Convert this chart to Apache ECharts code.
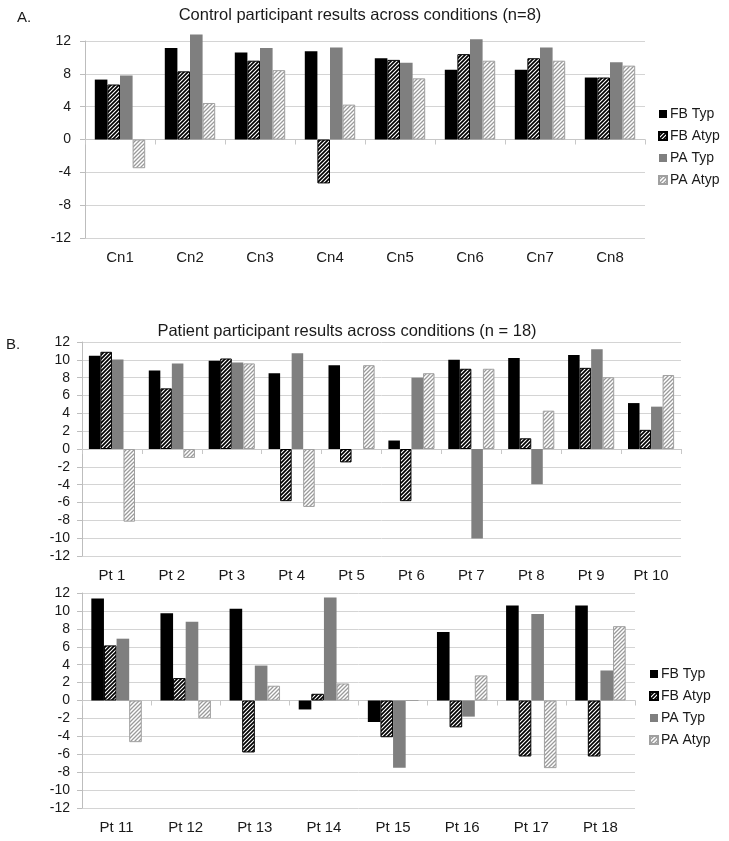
<!DOCTYPE html>
<html><head><meta charset="utf-8">
<script src="https://cdn.jsdelivr.net/npm/echarts@6/dist/echarts.min.js"></script>
<style>html,body{margin:0;padding:0;background:#fff}#c{width:729px;height:841px}</style>
</head><body><div id="c"></div>
<script>
const seriesNames = ['FB Typ', 'FB Atyp', 'PA Typ', 'PA Atyp'];

const controlCats = ['Cn1', 'Cn2', 'Cn3', 'Cn4', 'Cn5', 'Cn6', 'Cn7', 'Cn8'];
const controlFbTyp  = [7.3, 11.15, 10.6, 10.75, 9.9, 8.5, 8.5, 7.55];
const controlFbAtyp = [6.7, 8.3, 9.6, -5.35, 9.7, 10.4, 9.9, 7.55];
const controlPaTyp  = [7.8, 12.8, 11.15, 11.2, 9.35, 12.2, 11.2, 9.4];
const controlPaAtyp = [-3.5, 4.45, 8.45, 4.25, 7.45, 9.6, 9.6, 9.0];

const patientCats1 = ['Pt 1', 'Pt 2', 'Pt 3', 'Pt 4', 'Pt 5', 'Pt 6', 'Pt 7', 'Pt 8', 'Pt 9', 'Pt 10'];
const patient1FbTyp  = [10.45, 8.8, 9.9, 8.5, 9.4, 0.95, 10.0, 10.2, 10.55, 5.15];
const patient1FbAtyp = [10.9, 6.8, 10.15, -5.85, -1.5, -5.85, 9.0, 1.2, 9.1, 2.15];
const patient1PaTyp  = [10.05, 9.6, 9.7, 10.75, 0, 8.0, -10.05, -3.95, 11.2, 4.75];
const patient1PaAtyp = [-8.15, -1.0, 9.6, -6.5, 9.4, 8.5, 9.0, 4.3, 8.05, 8.3];

const patientCats2 = ['Pt 11', 'Pt 12', 'Pt 13', 'Pt 14', 'Pt 15', 'Pt 16', 'Pt 17', 'Pt 18'];
const patient2FbTyp  = [11.4, 9.75, 10.25, -1.0, -2.4, 7.65, 10.6, 10.6];
const patient2FbAtyp = [6.15, 2.5, -5.8, 0.75, -4.1, -3.0, -6.25, -6.25];
const patient2PaTyp  = [6.9, 8.8, 3.9, 11.5, -7.5, -1.8, 9.65, 3.35];
const patient2PaAtyp = [-4.65, -2.0, 1.65, 1.9, 0, 2.8, -7.55, 8.3];

const yRangeA = {min: -12, max: 12, interval: 4};
const yRangeB = {min: -12, max: 12, interval: 2};

function stripes(fg, bg, lw, size) {
  const c = document.createElement('canvas');
  c.width = c.height = size;
  const g = c.getContext('2d');
  g.fillStyle = bg; g.fillRect(0, 0, size, size);
  g.strokeStyle = fg; g.lineWidth = lw; g.lineCap = 'square';
  g.beginPath();
  g.moveTo(-2, size + 2); g.lineTo(size + 2, -2);
  g.moveTo(-2, 2); g.lineTo(2, -2);
  g.moveTo(size - 2, size + 2); g.lineTo(size + 2, size - 2);
  g.stroke();
  return {image: c, repeat: 'repeat'};
}
const darkHatch = stripes('#000', '#fff', 1.7, 4);
const lightHatch = stripes('#9a9a9a', '#fff', 1.3, 4);

const styles = [
  {color: '#000'},
  {color: darkHatch, borderColor: '#000', borderWidth: 1},
  {color: '#7f7f7f'},
  {color: lightHatch, borderColor: '#a0a0a0', borderWidth: 1}
];

const groups = [
  {cats: controlCats, data: [controlFbTyp, controlFbAtyp, controlPaTyp, controlPaAtyp], y: yRangeA, gap: '28%'},
  {cats: patientCats1, data: [patient1FbTyp, patient1FbAtyp, patient1PaTyp, patient1PaAtyp], y: yRangeB, gap: '23%'},
  {cats: patientCats2, data: [patient2FbTyp, patient2FbAtyp, patient2PaTyp, patient2PaAtyp], y: yRangeB, gap: '27%'}
];

const grids = [
  {left: 85, top: 41, width: 560, height: 197},
  {left: 82, top: 342, width: 599, height: 214},
  {left: 82, top: 593, width: 553, height: 215}
];
const labelMargins = [14, 12, 12];

const font = 'Liberation Sans, Arial, sans-serif';
const xAxis = [], yAxis = [], series = [];
groups.forEach((grp, i) => {
  xAxis.push({
    type: 'category', gridIndex: i, data: grp.cats, position: 'bottom',
    axisLine: {show: false, onZero: false}, axisTick: {show: false},
    axisLabel: {fontSize: 15, color: '#1a1a1a', fontFamily: font, margin: 12}
  });
  xAxis.push({
    type: 'category', gridIndex: i, data: grp.cats, position: 'bottom',
    axisLine: {show: true, onZero: true, lineStyle: {color: '#c8c8c8', width: 1}},
    axisTick: {show: true, length: 5, lineStyle: {color: '#c8c8c8'}},
    axisLabel: {show: false}
  });
  yAxis.push({
    type: 'value', gridIndex: i, min: grp.y.min, max: grp.y.max, interval: grp.y.interval,
    axisLine: {show: true, lineStyle: {color: '#bdbdbd'}},
    axisTick: {show: true, length: 5, lineStyle: {color: '#bdbdbd'}},
    splitLine: {lineStyle: {color: '#d4d4d4'}},
    axisLabel: {fontSize: 14, color: '#1a1a1a', fontFamily: font, margin: labelMargins[i]}
  });
  grp.data.forEach((vals, k) => {
    series.push({
      type: 'bar', name: seriesNames[k], xAxisIndex: 2 * i, yAxisIndex: i,
      data: vals, barGap: '0%', barCategoryGap: grp.gap, clip: false,
      itemStyle: styles[k], emphasis: {disabled: true}, animation: false
    });
  });
});

const legendCommon = {
  orient: 'vertical', itemWidth: 8, itemHeight: 8, itemGap: 8, selectedMode: false,
  icon: 'rect', data: seriesNames,
  textStyle: {fontSize: 14, color: '#1a1a1a', fontFamily: font, padding: [0, 0, 0, -2]}
};

const titleFont = '16.5px Liberation Sans, Arial, sans-serif';
const option = {
  animation: false,
  backgroundColor: '#fff',
  grid: grids,
  xAxis: xAxis,
  yAxis: yAxis,
  series: series,
  legend: [
    Object.assign({left: 653, top: 102}, legendCommon),
    Object.assign({left: 644, top: 662}, legendCommon)
  ],
  graphic: [
    {type: 'text', x: 360, y: 15, style: {text: 'Control participant results across conditions (n=8)', font: titleFont, fill: '#1a1a1a', textAlign: 'center', textVerticalAlign: 'middle'}},
    {type: 'text', x: 17, y: 18, style: {text: 'A.', font: '15px Liberation Sans, Arial, sans-serif', fill: '#1a1a1a', textAlign: 'left', textVerticalAlign: 'middle'}},
    {type: 'text', x: 347, y: 331, style: {text: 'Patient participant results across conditions (n = 18)', font: titleFont, fill: '#1a1a1a', textAlign: 'center', textVerticalAlign: 'middle'}},
    {type: 'text', x: 6, y: 345, style: {text: 'B.', font: '15px Liberation Sans, Arial, sans-serif', fill: '#1a1a1a', textAlign: 'left', textVerticalAlign: 'middle'}}
  ]
};

const chart = echarts.init(document.getElementById('c'));
chart.setOption(option);
</script>
</body></html>
